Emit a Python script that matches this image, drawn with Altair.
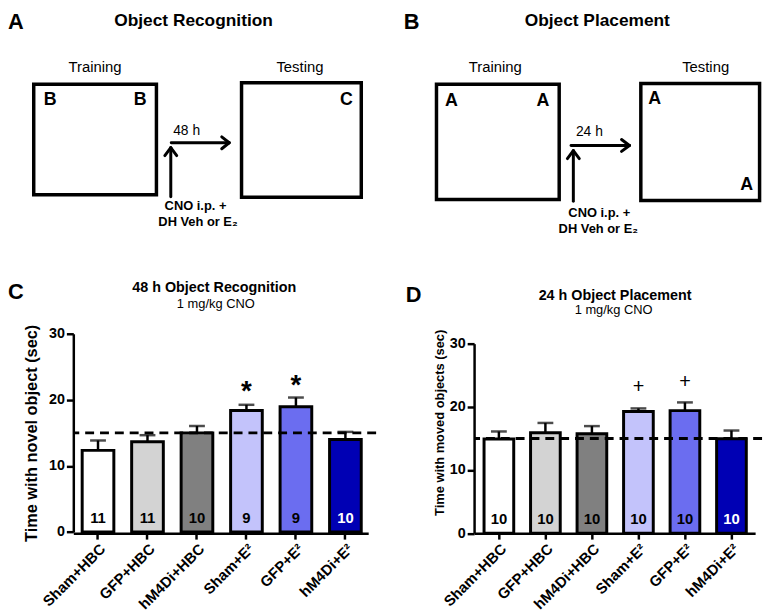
import altair as alt
import pandas as pd

FONT = "Liberation Sans"

# ---------------- bar panels (C, D) ----------------
groups = ["Sham+HBC", "GFP+HBC", "hM4Di+HBC", "Sham+E²", "GFP+E²", "hM4Di+E²"]
y_ticks = [0, 5, 10, 15, 20, 25, 30]
chance_level = [15]

c_mean = [12.35, 13.65, 15.0, 18.4, 18.95, 14.0]
c_sem_top = [13.85, 14.65, 16.05, 19.25, 20.35, 15.15]
c_n = ["11", "11", "10", "9", "9", "10"]
c_colors = ["#ffffff", "#d3d3d3", "#808080", "#c3c3fb", "#6b6df0", "#0000b4"]
c_sig_groups = ["Sham+E²", "GFP+E²"]
c_sig_y = [22.2, 23.2]

d_mean = [14.9, 15.9, 15.75, 19.25, 19.4, 14.95]
d_sem_top = [16.1, 17.45, 16.95, 19.75, 20.7, 16.25]
d_n = ["10", "10", "10", "10", "10", "10"]
d_colors = ["#ffffff", "#d3d3d3", "#808080", "#dadafd", "#6b6df0", "#0000b4"]
d_sig_groups = ["Sham+E²", "GFP+E²"]
d_sig_y = [23.3, 24.0]

# ---------------- schematic panels (A, B) ----------------
box_x0 = [34, 244, 441, 647.5]
box_x1 = [158, 365, 565, 767.5]
box_y0 = [80.8, 79.4, 80.8, 80.0]
box_y1 = [192.5, 195.0, 197.3, 198.3]

panel_letters = ["A", "B", "C", "D"]
panel_letter_x = [8, 408, 8, 410]
panel_letter_y = [8, 8, 280.5, 283.5]

panel_titles = ["Object Recognition", "Object Placement"]
panel_title_x = [195.5, 603.5]
panel_title_y = [8, 8]

room_labels = ["Training", "Testing", "Training", "Testing"]
room_x = [96, 303, 500.5, 713]
room_y = [68, 68, 68, 68]

object_labels = ["B", "B", "C", "A", "A", "A", "A"]
object_x = [50.5, 141.5, 350, 456, 548.5, 661.5, 754.5]
object_y = [101.7, 101.7, 101.7, 103, 103, 101, 188]

delay_labels = ["48 h", "24 h"]
delay_x = [188.5, 595.5]
delay_y = [132, 133]

treat_labels = ["CNO i.p. +", "DH Veh or E₂", "CNO i.p. +", "DH Veh or E₂"]
treat_x = [197.5, 200, 605.5, 604.5]
treat_y = [208, 224.5, 215.5, 231.5]

chart_titles = ["48 h Object Recognition", "24 h Object Placement"]
chart_title_x = [216.5, 621.5]
chart_title_y = [290.5, 298.7]
chart_sub = ["1 mg/kg CNO", "1 mg/kg CNO"]
chart_sub_x = [218, 620]
chart_sub_y = [306.5, 312.6]

# arrow segments: shafts and open heads
seg_x = [172.5, 166.5, 178.5, 173, 224, 224, 579.3, 573.3, 585.3, 577, 628, 628]
seg_y = [194.5, 153, 153, 140, 134, 146, 199, 156, 156, 142.7, 136.7, 148.7]
seg_x2 = [172.5, 172.5, 172.5, 231.5, 231.5, 231.5, 579.3, 579.3, 579.3, 636, 636, 636]
seg_y2 = [145, 145, 145, 140, 140, 140, 148, 148, 148, 142.7, 142.7, 142.7]

xs = alt.Scale(domain=[74, 775], nice=False, zero=False)
ys = alt.Scale(domain=[8, 325], nice=False, zero=False, reverse=True)


def text_layer(texts, xv, yv, size, weight, align, baseline):
    df = pd.DataFrame({"t": texts, "x": xv, "y": yv})
    return alt.Chart(df).mark_text(
        font=FONT, fontSize=size, fontWeight=weight, align=align,
        baseline=baseline, color="black"
    ).encode(
        x=alt.X("x:Q", scale=xs, axis=None),
        y=alt.Y("y:Q", scale=ys, axis=None),
        text="t:N",
    )


boxes = alt.Chart(pd.DataFrame({"x0": box_x0, "x1": box_x1, "y0": box_y0, "y1": box_y1})).mark_rect(
    fillOpacity=0, stroke="black", strokeWidth=3.5
).encode(
    x=alt.X("x0:Q", scale=xs, axis=None), x2="x1:Q",
    y=alt.Y("y0:Q", scale=ys, axis=None), y2="y1:Q",
)

arrows = alt.Chart(pd.DataFrame({"x": seg_x, "y": seg_y, "x2": seg_x2, "y2": seg_y2})).mark_rule(
    color="black", strokeWidth=3, strokeCap="round"
).encode(
    x=alt.X("x:Q", scale=xs, axis=None), x2="x2:Q",
    y=alt.Y("y:Q", scale=ys, axis=None), y2="y2:Q",
)

top = alt.layer(
    boxes,
    arrows,
    text_layer(panel_letters, panel_letter_x, panel_letter_y, 22, "bold", "left", "top"),
    text_layer(panel_titles, panel_title_x, panel_title_y, 17.5, "bold", "center", "top"),
    text_layer(room_labels, room_x, room_y, 15, "normal", "center", "alphabetic"),
    text_layer(object_labels, object_x, object_y, 18, "bold", "center", "alphabetic"),
    text_layer(delay_labels, delay_x, delay_y, 14, "normal", "center", "alphabetic"),
    text_layer(treat_labels, treat_x, treat_y, 13, "bold", "center", "alphabetic"),
    text_layer(chart_titles, chart_title_x, chart_title_y, 14.5, "bold", "center", "alphabetic"),
    text_layer(chart_sub, chart_sub_x, chart_sub_y, 13, "normal", "center", "alphabetic"),
).properties(width=701, height=317)


def bar_panel(mean, sem_top, ns, colors, sig_groups, sig_y, sig_mark, sig_size, sig_weight, sig_dy,
              ytitle, width, xr, pin, pout, align, yr, title_size, title_pad, title_y=None):
    df = pd.DataFrame({"group": groups, "mean": mean, "top": sem_top, "n": ns})
    sig = pd.DataFrame({"group": sig_groups, "y": sig_y, "t": [sig_mark] * len(sig_groups)})
    chance = pd.DataFrame({"v": chance_level})

    xsc = alt.Scale(domain=groups, range=[0, xr], paddingInner=pin, paddingOuter=pout, align=align)
    ysc = alt.Scale(domain=[0, 30], range=yr, nice=False, zero=False)
    xaxis = alt.Axis(
        title=None, labelAngle=-45, labelAlign="right", labelBaseline="top",
        labelFont=FONT, labelFontSize=15, labelFontWeight="bold", labelColor="black",
        labelPadding=2, tickSize=6, tickWidth=2.5, tickColor="black",
        domainWidth=2.5, domainColor="black",
    )
    yargs = dict(
        title=ytitle, values=y_ticks, grid=False,
        labelFont=FONT, labelFontSize=14.5, labelFontWeight="bold", labelColor="black",
        labelPadding=2, tickSize=7, tickWidth=2.5, tickColor="black",
        domainWidth=2.5, domainColor="black",
        titleFont=FONT, titleFontSize=title_size, titleFontWeight="bold", titleColor="black",
        titlePadding=title_pad,
    )
    if title_y is not None:
        yargs["titleY"] = title_y
    yaxis = alt.Axis(**yargs)

    xenc = alt.X("group:N", sort=groups)
    bars = alt.Chart(df).mark_bar(stroke="black", strokeWidth=3).encode(
        x=alt.X("group:N", sort=groups, scale=xsc, axis=xaxis),
        y=alt.Y("mean:Q", scale=ysc, axis=yaxis),
        color=alt.Color("group:N", scale=alt.Scale(domain=groups, range=colors), legend=None),
    )
    dash = alt.Chart(chance).mark_rule(color="black", strokeWidth=3, strokeDash=[9, 6]).encode(
        y="v:Q"
    )
    stems = alt.Chart(df).mark_rule(color="black", strokeWidth=2.5).encode(
        x=xenc, y="mean:Q", y2="top:Q"
    )
    caps = alt.Chart(df).mark_tick(color="black", thickness=2.5, size=16).encode(
        x=xenc, y="top:Q"
    )
    ntext = alt.Chart(df).mark_text(
        font=FONT, fontSize=15, fontWeight="bold", baseline="middle", dy=-14.5
    ).encode(
        x=xenc, y=alt.datum(0), text="n:N",
        color=alt.condition(f"datum.group == '{groups[-1]}'", alt.value("white"), alt.value("black")),
    )
    sigt = alt.Chart(sig).mark_text(
        font=FONT, fontSize=sig_size, fontWeight=sig_weight, baseline="middle", dy=sig_dy, color="black"
    ).encode(x=xenc, y="y:Q", text="t:N")

    return alt.layer(bars, dash, stems, caps, ntext, sigt).properties(width=width, height=201.5)


panel_c = bar_panel(
    c_mean, c_sem_top, c_n, c_colors, c_sig_groups, c_sig_y, "*", 28, "bold", 7.3,
    "Time with novel object (sec)", 306, 298, 0.36, 0.16, 0.56, [200.3, 0], 16.5, 9,
)
panel_d = bar_panel(
    d_mean, d_sem_top, d_n, d_colors, d_sig_groups, d_sig_y, "+", 20, "normal", 1,
    "Time with moved objects (sec)", 291, 284, 0.362, 0.202, 0.53, [201.5, 10], 13, 3, 89.5,
)

bottom = alt.hconcat(panel_c, panel_d, spacing=99, bounds="flush")

chart = alt.vconcat(top, bottom, spacing=8, bounds="flush").properties(
    padding=0, background="white"
).configure_view(stroke=None)

chart.save("out.html", embed_options={"renderer": "svg", "actions": False})
